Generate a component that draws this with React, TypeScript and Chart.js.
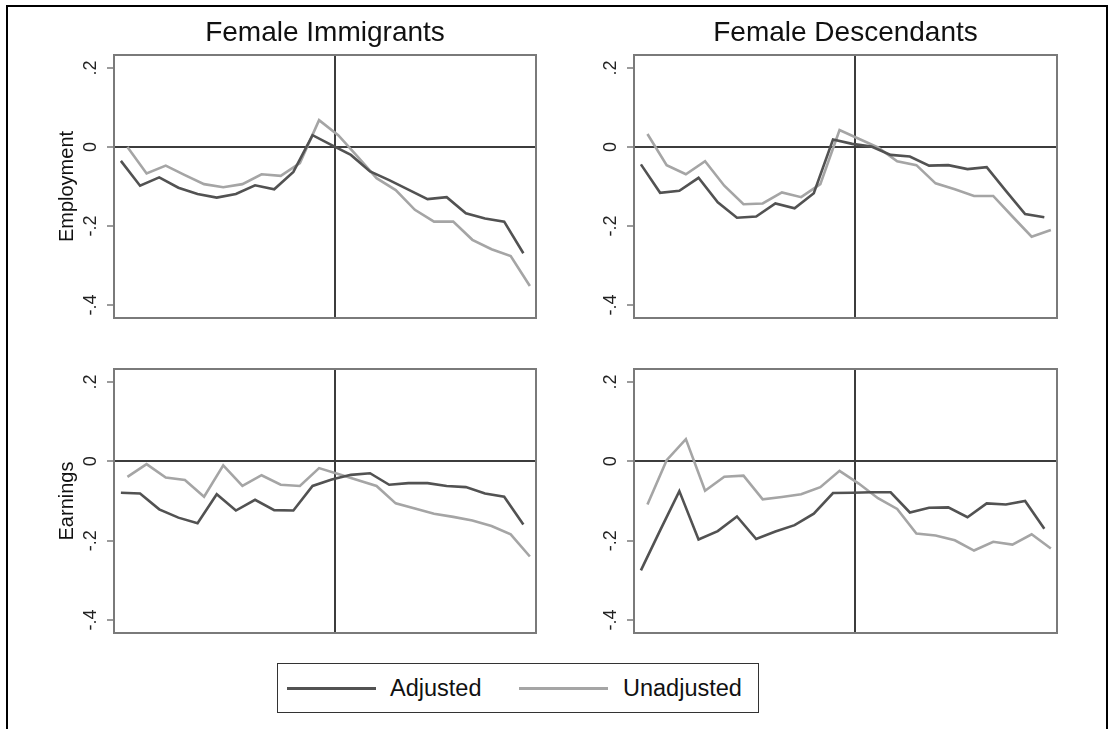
import React, { useEffect, useRef } from "react";
import { Chart, registerables } from "chart.js";

Chart.register(...registerables);

// ---- data ----
const YEARS = [-11, -10, -9, -8, -7, -6, -5, -4, -3, -2, -1, 0, 1, 2, 3, 4, 5, 6, 7, 8, 9, 10];

const IMM_EMP_ADJ = [-0.035, -0.098, -0.077, -0.103, -0.119, -0.128, -0.119, -0.097, -0.107, -0.063, 0.03, 0.005, -0.02, -0.062, -0.084, -0.108, -0.132, -0.127, -0.168, -0.181, -0.189, -0.269];
const IMM_EMP_UNADJ = [0.0, -0.067, -0.047, -0.071, -0.094, -0.102, -0.094, -0.069, -0.073, -0.041, 0.068, 0.03, -0.024, -0.079, -0.109, -0.159, -0.189, -0.189, -0.235, -0.259, -0.276, -0.352];

const DES_EMP_ADJ = [-0.044, -0.116, -0.111, -0.078, -0.14, -0.179, -0.176, -0.143, -0.155, -0.117, 0.019, 0.008, 0.001, -0.02, -0.024, -0.047, -0.046, -0.056, -0.051, -0.111, -0.17, -0.178];
const DES_EMP_UNADJ = [0.033, -0.046, -0.069, -0.036, -0.098, -0.145, -0.143, -0.115, -0.127, -0.094, 0.043, 0.021, -0.001, -0.036, -0.046, -0.092, -0.107, -0.124, -0.124, -0.176, -0.227, -0.21];

const IMM_EARN_ADJ = [-0.079, -0.081, -0.121, -0.142, -0.156, -0.083, -0.124, -0.097, -0.123, -0.124, -0.062, -0.046, -0.034, -0.03, -0.059, -0.055, -0.055, -0.062, -0.065, -0.081, -0.089, -0.159];
const IMM_EARN_UNADJ = [-0.039, -0.007, -0.041, -0.047, -0.089, -0.01, -0.062, -0.035, -0.059, -0.062, -0.017, -0.032, -0.047, -0.062, -0.106, -0.119, -0.132, -0.14, -0.149, -0.163, -0.184, -0.24];

const DES_EARN_ADJ = [-0.275, -0.174, -0.075, -0.197, -0.176, -0.139, -0.196, -0.177, -0.161, -0.132, -0.08, -0.079, -0.078, -0.078, -0.129, -0.117, -0.116, -0.141, -0.106, -0.109, -0.1, -0.17];
const DES_EARN_UNADJ = [-0.109, 0.003, 0.056, -0.074, -0.039, -0.036, -0.096, -0.09, -0.083, -0.065, -0.024, -0.056, -0.093, -0.12, -0.182, -0.187, -0.199, -0.225, -0.203, -0.21, -0.184, -0.22];

const Y_TICKS = [-0.4, -0.2, 0, 0.2];
const Y_TICK_LABELS = ["-.4", "-.2", "0", ".2"];
const SERIES_NAMES = ["Adjusted", "Unadjusted"];
const COLUMN_TITLES = ["Female Immigrants", "Female Descendants"];
const ROW_LABELS = ["Employment", "Earnings"];

// ---- style ----
const FONT = '"Liberation Sans", Arial, Helvetica, sans-serif';
const DARK = "#525252";
const LIGHT = "#a5a5a5";
const ZERO_COLOR = "#3c3c3c";
const BOX_COLOR = "#7a7a7a";
const X_SHIFT = 0.17;
const X_MIN = -11.53;
const X_MAX = 10.49;
const Y_MIN = -0.433;
const Y_MAX = 0.233;

const boxPlugin = {
  id: "panelBox",
  afterDraw(chart: any) {
    const { ctx, chartArea } = chart;
    ctx.save();
    ctx.strokeStyle = BOX_COLOR;
    ctx.lineWidth = 2;
    ctx.strokeRect(chartArea.left, chartArea.top, chartArea.right - chartArea.left, chartArea.bottom - chartArea.top);
    ctx.restore();
  },
};

const tickLabelPlugin = {
  id: "rotatedTickLabels",
  afterDraw(chart: any) {
    const { ctx, chartArea } = chart;
    const ys = chart.scales.y;
    const x = chartArea.left - 22.5;
    ctx.save();
    ctx.font = `18px ${FONT}`;
    ctx.fillStyle = "#222";
    ctx.textAlign = "center";
    ctx.textBaseline = "middle";
    Y_TICKS.forEach((v, i) => {
      const py = ys.getPixelForValue(v);
      ctx.save();
      ctx.translate(x, py);
      ctx.rotate(-Math.PI / 2);
      ctx.fillText(Y_TICK_LABELS[i], 0, 0);
      ctx.restore();
    });
    ctx.restore();
  },
};

type PanelProps = {
  adj: number[];
  unadj: number[];
  title?: string;
  yLabel?: string;
  left: number;
  top: number;
  width: number;
  height: number;
  padTop: number;
  padBottom: number;
};

function Panel(p: PanelProps) {
  const ref = useRef<HTMLCanvasElement | null>(null);
  useEffect(() => {
    if (!ref.current) return;
    const chart = new Chart(ref.current, {
      type: "line",
      data: {
        datasets: [
          {
            label: SERIES_NAMES[0],
            data: YEARS.map((t, i) => ({ x: t - X_SHIFT, y: p.adj[i] })),
            borderColor: DARK,
            borderWidth: 2.6,
            pointRadius: 0,
            tension: 0,
            fill: false,
          },
          {
            label: SERIES_NAMES[1],
            data: YEARS.map((t, i) => ({ x: t + X_SHIFT, y: p.unadj[i] })),
            borderColor: LIGHT,
            borderWidth: 2.6,
            pointRadius: 0,
            tension: 0,
            fill: false,
          },
        ],
      },
      options: {
        animation: false,
        responsive: false,
        maintainAspectRatio: false,
        events: [],
        layout: { padding: { left: 0, right: 0, top: p.padTop, bottom: p.padBottom } },
        plugins: {
          legend: { display: false },
          tooltip: { enabled: false },
          title: p.title
            ? {
                display: true,
                text: p.title,
                color: "#111",
                font: { family: FONT, size: 28, weight: "normal", lineHeight: 1.2 },
                padding: { top: 16.2, bottom: 5.2 },
              }
            : { display: false },
        },
        scales: {
          x: {
            type: "linear",
            min: X_MIN,
            max: X_MAX,
            afterBuildTicks: (s: any) => {
              s.ticks = [{ value: 0 }];
            },
            ticks: { display: false },
            grid: { color: ZERO_COLOR, lineWidth: 2, drawTicks: false },
            border: { display: false },
            afterFit: (s: any) => {
              s.height = 0;
            },
          },
          y: {
            type: "linear",
            position: "left",
            min: Y_MIN,
            max: Y_MAX,
            afterBuildTicks: (s: any) => {
              s.ticks = Y_TICKS.map((v) => ({ value: v }));
            },
            ticks: { display: false },
            grid: {
              color: (c: any) => (c.tick && Math.abs(c.tick.value) < 1e-9 ? ZERO_COLOR : "rgba(0,0,0,0)"),
              lineWidth: 2,
              drawTicks: true,
              tickLength: 7,
              tickColor: BOX_COLOR,
              tickWidth: 1.5,
            },
            border: { display: false },
            title: p.yLabel
              ? {
                  display: true,
                  text: p.yLabel,
                  color: "#111",
                  font: { family: FONT, size: 20, lineHeight: 1.2 },
                  padding: { top: 41.5, bottom: 0 },
                }
              : { display: false },
            afterFit: (s: any) => {
              s.width = 100;
            },
          },
          yRight: {
            type: "linear",
            position: "right",
            display: true,
            ticks: { display: false },
            grid: { display: false, drawTicks: false },
            border: { display: false },
            afterFit: (s: any) => {
              s.width = 100;
            },
          },
        },
      } as any,
      plugins: [boxPlugin, tickLabelPlugin],
    });
    return () => chart.destroy();
  }, []);
  return (
    <canvas
      ref={ref}
      width={p.width}
      height={p.height}
      style={{ position: "absolute", left: p.left, top: p.top, width: p.width, height: p.height }}
    />
  );
}

export default function App() {
  return (
    <div
      style={{
        position: "absolute",
        left: 0,
        top: 0,
        width: 1112,
        height: 729,
        overflow: "hidden",
        background: "#fff",
        fontFamily: FONT,
      }}
    >
      <div
        style={{
          position: "absolute",
          left: 6,
          top: 5,
          width: 1102,
          height: 800,
          border: "2.5px solid #000",
          boxSizing: "border-box",
        }}
      />
      <Panel adj={IMM_EMP_ADJ} unadj={IMM_EMP_UNADJ} title={COLUMN_TITLES[0]} yLabel={ROW_LABELS[0]}
        left={14} top={0} width={622} height={328} padTop={0} padBottom={10} />
      <Panel adj={DES_EMP_ADJ} unadj={DES_EMP_UNADJ} title={COLUMN_TITLES[1]}
        left={534} top={0} width={623} height={328} padTop={0} padBottom={10} />
      <Panel adj={IMM_EARN_ADJ} unadj={IMM_EARN_UNADJ} yLabel={ROW_LABELS[1]}
        left={14} top={359} width={622} height={284} padTop={10} padBottom={10} />
      <Panel adj={DES_EARN_ADJ} unadj={DES_EARN_UNADJ}
        left={534} top={359} width={623} height={284} padTop={10} padBottom={10} />

      <div
        style={{
          position: "absolute",
          left: 277,
          top: 663,
          width: 482,
          height: 50,
          border: "1.5px solid #333",
          boxSizing: "border-box",
        }}
      />
      <div style={{ position: "absolute", left: 287, top: 686.5, width: 89, height: 3, background: DARK }} />
      <div style={{ position: "absolute", left: 390, top: 677, fontSize: 23.5, lineHeight: "23.5px", color: "#111", whiteSpace: "nowrap" }}>
        {SERIES_NAMES[0]}
      </div>
      <div style={{ position: "absolute", left: 519, top: 686.5, width: 89, height: 3, background: LIGHT }} />
      <div style={{ position: "absolute", left: 623, top: 677, fontSize: 23.5, lineHeight: "23.5px", color: "#111", whiteSpace: "nowrap" }}>
        {SERIES_NAMES[1]}
      </div>
    </div>
  );
}
